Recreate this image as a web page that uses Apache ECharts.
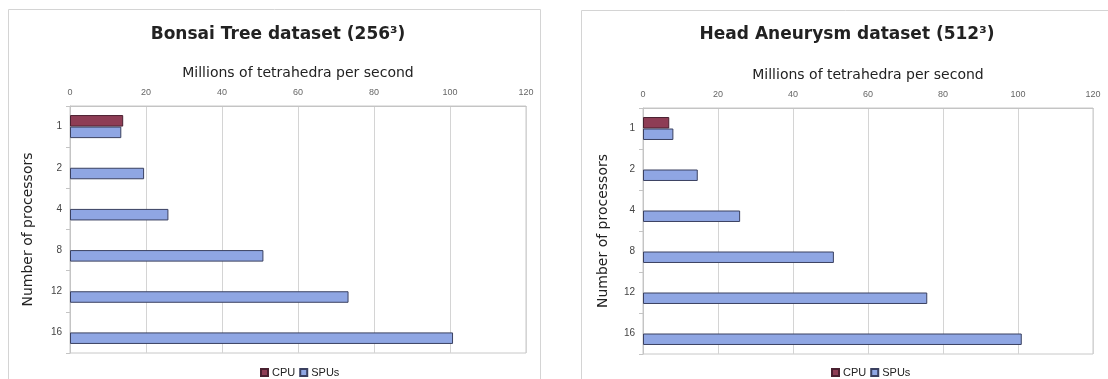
<!DOCTYPE html>
<html>
<head>
<meta charset="utf-8">
<script src="https://cdn.jsdelivr.net/npm/echarts@6/dist/echarts.min.js"></script>
<style>
  html, body { margin: 0; padding: 0; background: #ffffff; }
  #chart { width: 1108px; height: 379px; }
</style>
</head>
<body>
<div id="chart"></div>
<script>
// Processor counts shown on the category axis
const processors = ['1', '2', '4', '8', '12', '16'];

// Millions of tetrahedra per second, Bonsai Tree dataset (256^3)
const bonsaiCPU = [14.0, null, null, null, null, null];
const bonsaiSPU = [13.5, 19.5, 25.9, 50.9, 73.3, 100.8];

// Millions of tetrahedra per second, Head Aneurysm dataset (512^3)
const aneurysmCPU = [7.0, null, null, null, null, null];
const aneurysmSPU = [8.1, 14.6, 25.9, 50.9, 75.8, 101.0];

// Throughput axis range
const rateMin = 0;
const rateMax = 120;
const rateStep = 20;

const cpuColor = '#8e3d55';
const spuColor = '#8fa6e3';

const chart = echarts.init(document.getElementById('chart'), null, { renderer: 'canvas' });

function xAxisFor(gridIndex) {
  return {
    gridIndex: gridIndex,
    type: 'value',
    position: 'top',
    min: rateMin,
    max: rateMax,
    interval: rateStep,
    name: 'Millions of tetrahedra per second',
    nameLocation: 'middle',
    nameGap: 26,
    nameTextStyle: { fontFamily: 'DejaVu Sans', fontSize: 14, color: '#222' },
    axisLine: { show: true, lineStyle: { color: '#c4c4c4' } },
    axisTick: { show: false },
    axisLabel: { fontFamily: 'Liberation Sans', fontSize: 9, color: '#666', margin: 9 },
    splitLine: { show: true, lineStyle: { color: '#d4d4d4', width: 1 } }
  };
}

function yAxisFor(gridIndex, gap) {
  return {
    gridIndex: gridIndex,
    type: 'category',
    data: processors,
    inverse: true,
    name: 'Number of processors',
    nameLocation: 'middle',
    nameRotate: 90,
    nameGap: gap,
    nameTextStyle: { fontFamily: 'DejaVu Sans', fontSize: 14, color: '#222' },
    axisLine: { show: true, lineStyle: { color: '#c4c4c4' } },
    axisTick: { show: true, length: 4, lineStyle: { color: '#c4c4c4' } },
    axisLabel: { fontFamily: 'Liberation Sans', fontSize: 10, color: '#444', margin: 8 },
    splitLine: { show: false }
  };
}

function barSeries(name, data, idx, color, border) {
  return {
    name: name,
    type: 'bar',
    xAxisIndex: idx,
    yAxisIndex: idx,
    data: data,
    barGap: '0%',
    barCategoryGap: '44%',
    itemStyle: { color: color, borderColor: border, borderWidth: 1 },
    emphasis: { disabled: true }
  };
}

function legendAt(left) {
  return {
    left: left,
    top: 362,
    itemWidth: 7,
    itemHeight: 7,
    itemGap: 4,
    icon: 'rect',
    data: ['CPU', 'SPUs'],
    textStyle: { fontFamily: 'Liberation Sans', fontSize: 11, color: '#222', padding: [0, 0, 0, -1] },
    selectedMode: false
  };
}

chart.setOption({
  animation: false,
  backgroundColor: '#ffffff',
  title: [
    {
      text: 'Bonsai Tree dataset (256³)',
      left: 273, top: 21, textAlign: 'center',
      textStyle: { fontFamily: 'DejaVu Sans', fontWeight: 'bold', fontSize: 17, color: '#222' }
    },
    {
      text: 'Head Aneurysm dataset (512³)',
      left: 842, top: 21, textAlign: 'center',
      textStyle: { fontFamily: 'DejaVu Sans', fontWeight: 'bold', fontSize: 17, color: '#222' }
    }
  ],
  legend: [legendAt(255), legendAt(826)],
  grid: [
    { left: 70, top: 106, width: 456, height: 247, show: true, borderColor: '#c8c8c8', borderWidth: 1, backgroundColor: 'transparent' },
    { left: 643, top: 108, width: 450, height: 246, show: true, borderColor: '#c8c8c8', borderWidth: 1, backgroundColor: 'transparent' }
  ],
  xAxis: [xAxisFor(0), xAxisFor(1)],
  yAxis: [yAxisFor(0, 35), yAxisFor(1, 33)],
  series: [
    barSeries('CPU', bonsaiCPU, 0, cpuColor, '#4a2030'),
    barSeries('SPUs', bonsaiSPU, 0, spuColor, '#3a4060'),
    barSeries('CPU', aneurysmCPU, 1, cpuColor, '#4a2030'),
    barSeries('SPUs', aneurysmSPU, 1, spuColor, '#3a4060')
  ],
  graphic: [
    { type: 'rect', silent: true, shape: { x: 8.5, y: 9.5, width: 532, height: 400 },
      style: { fill: 'none', stroke: '#d4d4d4', lineWidth: 1 } },
    { type: 'rect', silent: true, shape: { x: 581.5, y: 10.5, width: 540, height: 400 },
      style: { fill: 'none', stroke: '#d4d4d4', lineWidth: 1 } }
  ]
});
</script>
</body>
</html>
